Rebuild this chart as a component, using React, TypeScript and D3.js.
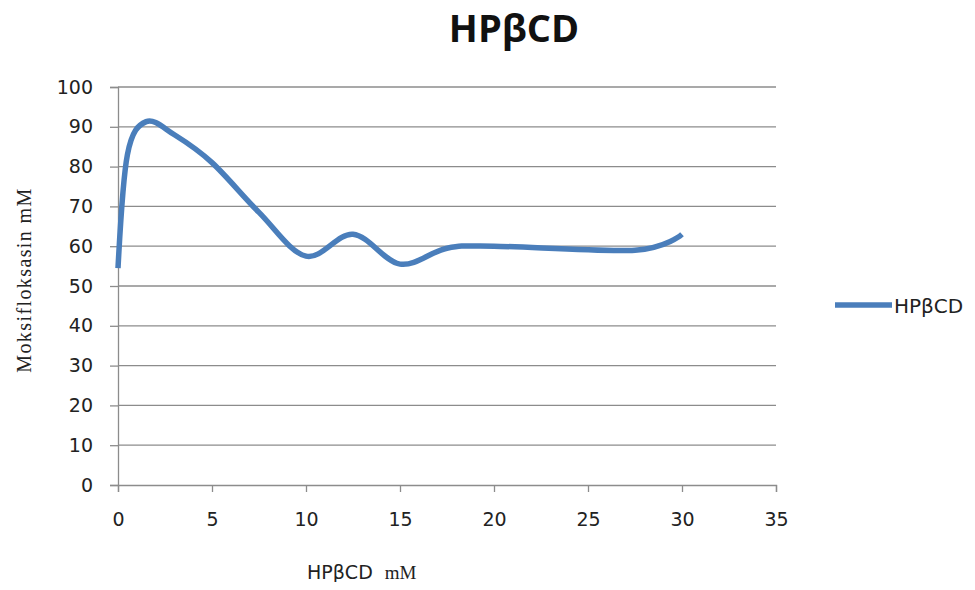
import React, { useEffect, useRef } from 'react';
import * as d3 from 'd3';

// concentration of HPβCD (mM) and moxifloxacin solubility (mM)
const hpbcd = [0, 0.5, 1.5, 3, 5, 7.5, 10, 12.5, 15, 17.5, 20, 27.5, 30];
const moksi = [54.5, 83, 91.3, 88, 81, 68.5, 57.5, 63, 55.5, 59.5, 60, 59, 63];
const xTicks = [0, 5, 10, 15, 20, 25, 30, 35];
const yTicks = [0, 10, 20, 30, 40, 50, 60, 70, 80, 90, 100];
const seriesName = 'HPβCD';

const App: React.FC = () => {
    const ref = useRef<SVGSVGElement | null>(null);

    useEffect(() => {
        if (!ref.current) return;
        const svg = d3.select(ref.current);
        svg.selectAll('*').remove();

        const width = 975;
        const height = 590;
        const margin = { top: 87, right: 199, bottom: 105, left: 118 };
        const lineColor = '#4a7ebb';
        const gridColor = '#8c8c8c';
        const tickFont = 'Tahoma, "DejaVu Sans", sans-serif';

        const x = d3.scaleLinear().domain([0, 35]).range([margin.left, width - margin.right]);
        const y = d3.scaleLinear().domain([0, 100]).range([height - margin.bottom, margin.top]);

        svg.append('rect').attr('width', width).attr('height', height).attr('fill', '#fff');

        // title
        svg.append('text')
            .attr('x', 514).attr('y', 42)
            .attr('text-anchor', 'middle')
            .style('font-family', '"Open Sans", sans-serif')
            .style('font-weight', 'bold')
            .style('font-size', '38px')
            .attr('fill', '#111')
            .text(seriesName);

        // gridlines
        svg.append('g')
            .selectAll('line')
            .data(yTicks.filter(d => d > 0))
            .join('line')
            .attr('x1', margin.left).attr('x2', width - margin.right)
            .attr('y1', d => y(d)).attr('y2', d => y(d))
            .attr('stroke', gridColor).attr('stroke-width', 1.3);

        // y axis
        const yAxis = svg.append('g')
            .attr('transform', `translate(${margin.left},0)`)
            .call(d3.axisLeft(y).tickValues(yTicks).tickSize(8).tickPadding(17).tickFormat(d3.format('d')));
        yAxis.select('.domain').attr('stroke', gridColor).attr('stroke-width', 1.3);
        yAxis.selectAll('.tick line').attr('stroke', gridColor).attr('stroke-width', 1.3);
        yAxis.selectAll('.tick text')
            .style('font-family', tickFont).style('font-size', '19px').attr('fill', '#222');

        // x axis
        const xAxis = svg.append('g')
            .attr('transform', `translate(0,${height - margin.bottom})`)
            .call(d3.axisBottom(x).tickValues(xTicks).tickSize(7).tickPadding(21).tickFormat(d3.format('d')));
        xAxis.select('.domain').attr('stroke', gridColor).attr('stroke-width', 1.3);
        xAxis.selectAll('.tick line').attr('stroke', gridColor).attr('stroke-width', 1.3);
        xAxis.selectAll('.tick text')
            .style('font-family', tickFont).style('font-size', '19px').attr('fill', '#222');

        // axis titles
        const xt = svg.append('text')
            .attr('x', 307).attr('y', 579)
            .style('font-size', '19px').attr('fill', '#222');
        xt.append('tspan').style('font-family', tickFont).text('HPβCD');
        xt.append('tspan').style('font-family', '"Liberation Serif", serif').attr('dx', 12).text('mM');

        svg.append('text')
            .attr('transform', 'translate(31,280) rotate(-90)')
            .attr('text-anchor', 'middle')
            .style('font-family', '"Liberation Serif", serif')
            .style('font-size', '20px')
            .style('letter-spacing', '1.4px')
            .attr('fill', '#222')
            .text('Moksifloksasin mM');

        // series
        const pts = hpbcd.map((d, i) => [d, moksi[i]] as [number, number]);
        const line = d3.line<[number, number]>()
            .x(d => x(d[0]))
            .y(d => y(d[1]))
            .curve(d3.curveCardinal.tension(0));
        svg.append('path')
            .datum(pts)
            .attr('fill', 'none')
            .attr('stroke', lineColor)
            .attr('stroke-width', 5.5)
            .attr('stroke-linejoin', 'round')
            .attr('d', line);

        // legend
        svg.append('line')
            .attr('x1', 835).attr('x2', 892).attr('y1', 305).attr('y2', 305)
            .attr('stroke', lineColor).attr('stroke-width', 5.5);
        svg.append('text')
            .attr('x', 894).attr('y', 313)
            .style('font-family', tickFont).style('font-size', '20px').attr('fill', '#222')
            .text(seriesName);
    }, []);

    return <svg ref={ref} width={975} height={590} style={{ display: 'block', margin: '-8px' }} />;
};

export default App;
